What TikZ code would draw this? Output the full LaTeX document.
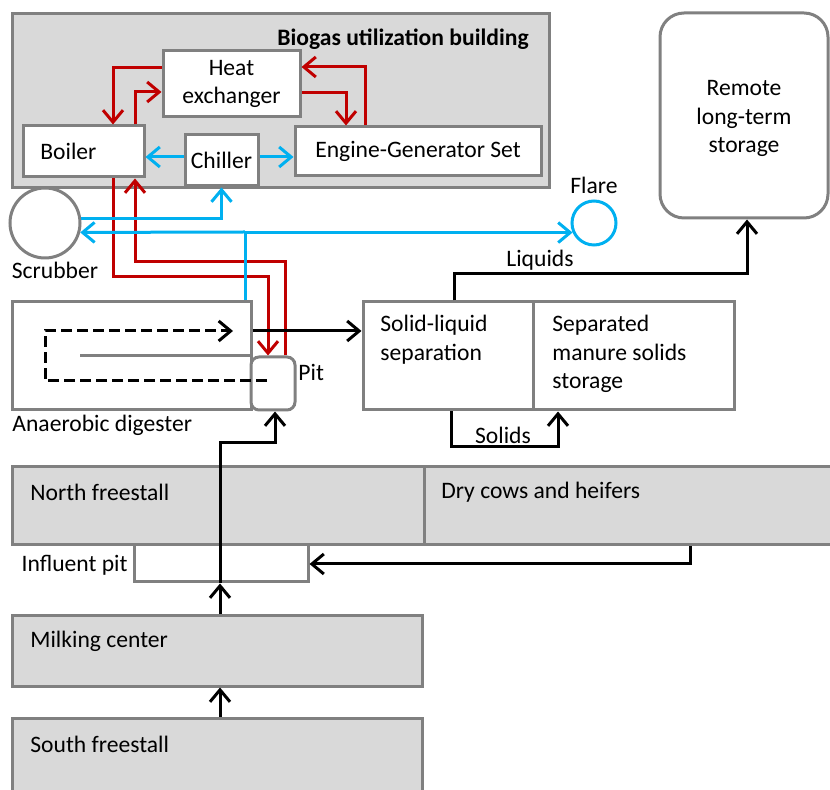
\documentclass[tikz,border=0pt]{standalone}
\usepackage{fontspec}
\setmainfont{Carlito}
\usetikzlibrary{arrows.meta,fit}
\definecolor{boxgray}{RGB}{128,128,128}
\definecolor{groundgray}{RGB}{217,217,217}
\definecolor{heatred}{RGB}{192,0,0}
\definecolor{gasblue}{RGB}{0,176,240}

\begin{document}
\begin{tikzpicture}[
		x=0.5pt, y=-0.5pt,
		graybox/.style={draw=boxgray, fill=groundgray, line width=1.5pt, inner sep=0pt},
		whitebox/.style={graybox, fill=white},
		txt/.style={font=\fontsize{11.8}{14.4}\selectfont, inner sep=0pt, align=left},
		flow/.style={line width=1.5pt, -{Straight Barb[length=6pt,width=10pt]}},
		heat/.style={flow, draw=heatred},
		gas/.style={flow, draw=gasblue}]
		
		\useasboundingbox (0,0) rectangle (830,790);
		\clip (0,0) rectangle (830,790);
		
		%gebaeude
		\node[graybox, fit={(12,14) (549,188)}] (building) {};
		\node[txt, font=\fontsize{11.8}{14.4}\selectfont\bfseries, anchor=east] (buildingtxt) at (529,39) {Biogas utilization building};
		
		%stallungen
		\foreach \name/\xa/\ya/\xb/\yb in {north/12/467/424/545, drycows/424/467/836/545, milking/12/616/422/686, south/12/718/422/800}
		\node[graybox, fit={(\xa,\ya) (\xb,\yb)}] (\name) {};
		
		%kaesten
		\foreach \name/\xa/\ya/\xb/\yb in {hx/163/51/300/117, boiler/23/126/144/177, chiller/185/135/258/186, engine/295/127/541/176,
			digester/12/302/251/410, solidliq/363/302/533/410, sepstore/533/302/734/410, influent/134/545/308/582}
		\node[whitebox, fit={(\xa,\ya) (\xb,\yb)}] (\name) {};
		
		\node[whitebox, rounded corners=4pt, fit={(251,357) (295,410)}] (pit) {};
		\node[whitebox, rounded corners=12pt, fit={(660,13) (828,218)}] (remote) {};
		
		\node[whitebox, circle, minimum size=35pt] (scrubber) at (45,223) {};
		\node[whitebox, circle, draw=gasblue, minimum size=22pt] (flare) at (594,223) {};
		
		%texte
		\foreach \name/\px/\py/\text in {boiler/40/151/Boiler, north/30/492/North freestall, drycows/441/492/Dry cows and heifers,
			milking/30/641/Milking center, south/30/744/South freestall, digester/12/425/Anaerobic digester, pit/298/372/Pit}
		\node[txt, anchor=west] (\name txt) at (\px,\py) {\text};
		
		\node[txt, align=center] (hxtxt) at (hx) {Heat\\exchanger};
		\node[txt] (chillertxt) at (chiller) {Chiller};
		\node[txt] (enginetxt) at (engine) {Engine-Generator Set};
		\node[txt, align=center] (remotetxt) at ([yshift=-1.5pt]remote.center) {Remote\\long-term\\storage};
		\node[txt, anchor=west] (solidliqtxt) at (380,340) {Solid-liquid\\separation};
		\node[txt, anchor=west] (sepstoretxt) at (552,354) {Separated\\manure solids\\storage};
		\node[txt, anchor=east] (influenttxt) at (128,565) {Influent pit};
		\node[txt] (scrubbertxt) at (55,270) {Scrubber};
		\node[txt] (flaretxt) at (594,185) {Flare};
		\node[txt] (liquidstxt) at (540,260) {Liquids};
		\node[txt] (solidstxt) at (503,435) {Solids};
		
		%waerme
		\draw[heat] (hx.west |- 0,68) -| (boiler.north -| 113,0);
		\draw[heat] (boiler.north -| 135,0) |- (hx.west |- 0,92);
		\draw[heat] (engine.north -| 365,0) |- (hx.east |- 0,67);
		\draw[heat] (hx.east |- 0,93) -| (engine.north -| 346,0);
		\draw[heat] (boiler.south -| 113,0) |- (268,277) -- (pit.north -| 268,0);
		\draw[heat] (pit.north -| 285,0) |- (135,262) -- (boiler.south -| 135,0);
		
		%gas
		\coordinate (gasjoin) at (245,232);
		\draw[gas] (chiller.west |- 0,157) -- (boiler.east |- 0,157);
		\draw[gas] (chiller.east |- 0,157) -- (engine.west |- 0,157);
		\draw[gas] (scrubber.7) -| (chiller.south);
		\draw[gas] (digester.north -| gasjoin) |- (flare.204);
		\draw[gas] (gasjoin) -- (scrubber.-15);
		
		%guelle
		\coordinate (loopstart) at (267,381);
		\coordinate (loopend) at (233,331);
		\coordinate (baffleend) at (80,356);
		\draw[line width=1.5pt, draw=boxgray] (baffleend) -- (digester.east |- baffleend);
		\draw[flow, dash pattern=on 5.5pt off 2.5pt] (loopstart) -| (45,331) -- (loopend);
		\draw[flow] (digester.east |- 0,331) -- (solidliq.west |- 0,331);
		\draw[flow] (solidliq.north -| 454,0) |- (747,274) -- (remote.south -| 747,0);
		\draw[flow] (solidliq.south -| 451,0) |- (558,447) -- (sepstore.south -| 558,0);
		\draw[flow] (influent.south -| 220,0) |- (275,443) -- (pit.south -| 275,0);
		\draw[flow] (milking.north -| 220,0) -- (influent.south -| 220,0);
		\draw[flow] (south.north -| 220,0) -- (milking.south -| 220,0);
		\draw[flow] (drycows.south -| 690,0) |- (influent.east |- 0,564);
		
	\end{tikzpicture}
\end{document}
